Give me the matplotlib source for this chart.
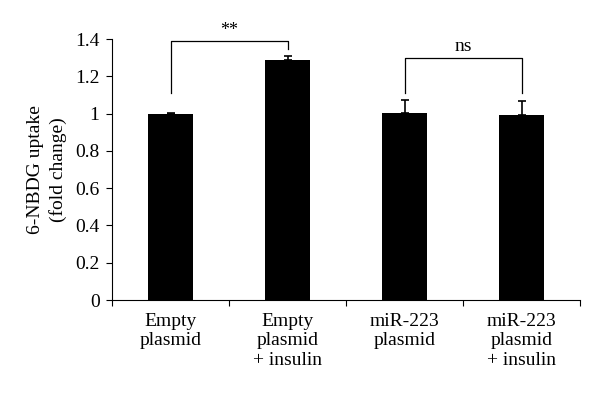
import numpy as np
from matplotlib import pyplot as plt

plt.rcParams['font.family'] = ['Liberation Serif', 'DejaVu Serif']

groups = ['Empty\nplasmid', 'Empty\nplasmid\n+ insulin', 'miR-223\nplasmid', 'miR-223\nplasmid\n+ insulin']
uptake = [1.0, 1.29, 1.005, 0.99]
err = [0.005, 0.02, 0.07, 0.08]

# significance brackets: (left bar, right bar, left leg, right leg, top, label)
brackets = [(0, 1, 1.11, 1.345, 1.39, '**'),
            (2, 3, 1.11, 1.11, 1.30, 'ns')]

fig = plt.figure(figsize=(6, 3.96), dpi=100)
ax = fig.add_axes([0.1867, 0.2424, 0.78, 0.6591])

x = np.arange(len(groups))
ax.bar(x, uptake, width=0.385, color='black',
       yerr=[np.zeros(len(err)), err], capsize=3,
       error_kw=dict(ecolor='black', elinewidth=1.2, capthick=1.2))

for i, j, yl, yr, top, lab in brackets:
    ax.plot([i, i, j, j], [yl, top, top, yr], color='black', lw=0.9,
            clip_on=False)
    fs = 13 if lab == '**' else 14
    ax.text((i + j) / 2, top + 0.012, lab, ha='center', va='bottom',
            fontsize=fs)

ax.set_xlim(-0.5, 3.5)
ax.set_ylim(0, 1.4)
ax.set_yticks(np.arange(0, 1.41, 0.2))
ax.set_yticklabels(['0', '0.2', '0.4', '0.6', '0.8', '1', '1.2', '1.4'])
ax.set_xticks(np.arange(-0.5, 3.6, 1))
ax.set_xticklabels([])
ax.set_xticks(x, minor=True)
ax.set_xticklabels(groups, minor=True, fontsize=14, linespacing=1.2)
ax.tick_params(axis='x', which='minor', length=0, pad=9)
ax.tick_params(axis='x', which='major', direction='out', length=4)
ax.tick_params(axis='y', direction='out', length=4, labelsize=14, pad=5)

ax.spines['top'].set_visible(False)
ax.spines['right'].set_visible(False)
ax.set_ylabel('6-NBDG uptake\n(fold change)', fontsize=14, labelpad=6,
              linespacing=1.35)

fig.savefig('out.png', dpi=100)
